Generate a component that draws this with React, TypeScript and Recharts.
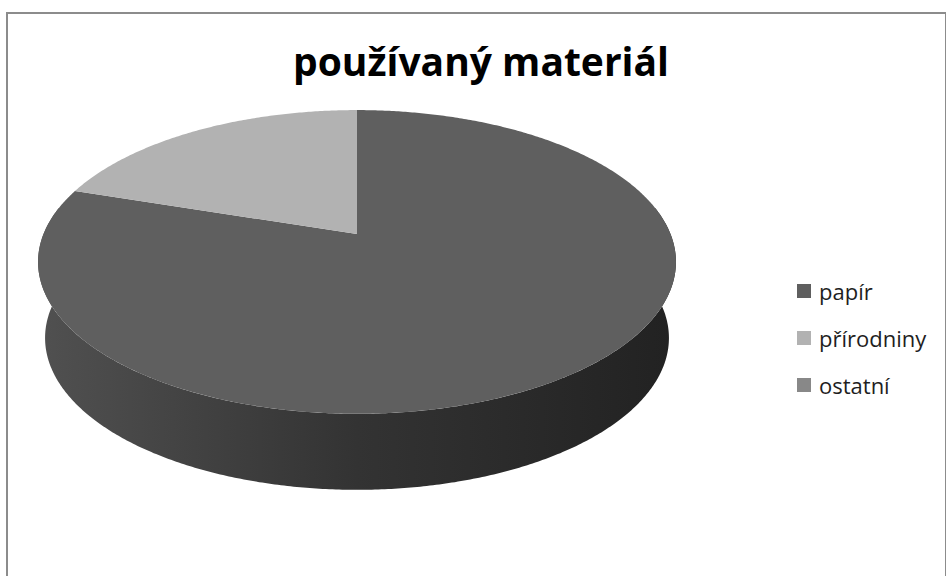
import React from "react";
import { PieChart, Pie, Cell, Legend } from "recharts";

const categories = ["papír", "přírodniny", "ostatní"];
const shares = [80, 20, 0];
const colors = ["#5f5f5f", "#b2b2b2", "#888888"];

const data = categories.map((name, i) => ({ name, value: shares[i] }));

// perspective of the tilted disc
const TILT = 0.468; // vertical squash of radius
const PERSP = 0.184; // far side shrink
const DEPTH = 76;
const BOTTOM_SCALE = 0.978;
const RAD = Math.PI / 180;

const shade = (hex: string, k: number) => {
	const n = parseInt(hex.slice(1), 16);
	const c = (v: number) => Math.round(Math.min(255, v * k)).toString(16).padStart(2, "0");
	return `#${c((n >> 16) & 255)}${c((n >> 8) & 255)}${c(n & 255)}`;
};

const project = (cx: number, cy: number, r: number, a: number, bottom = false) => {
	const u = Math.cos(a * RAD);
	const v = Math.sin(a * RAD);
	const d = 1 + PERSP * v;
	const rr = bottom ? r * BOTTOM_SCALE : r;
	return [cx + (rr * u) / d, cy + (bottom ? DEPTH : 0) - (r * TILT * v) / d];
};

const arcPts = (cx: number, cy: number, r: number, from: number, to: number, bottom = false) => {
	const steps = Math.max(2, Math.ceil(Math.abs(to - from) * 2));
	const pts: string[] = [];
	for (let i = 0; i <= steps; i++) {
		const [x, y] = project(cx, cy, r, from + ((to - from) * i) / steps, bottom);
		pts.push(`${x.toFixed(2)},${y.toFixed(2)}`);
	}
	return pts;
};

const Slice3D = (props: any) => {
	const { cx, cy, outerRadius, startAngle, endAngle, fill, index } = props;
	if (Math.abs(endAngle - startAngle) < 0.01) return <g />;
	const lo = Math.min(startAngle, endAngle);
	const hi = Math.max(startAngle, endAngle);
	const edge = Math.asin(PERSP) / RAD;

	const walls: string[] = [];
	for (let k = -2; k <= 2; k++) {
		const a1 = Math.max(lo, k * 360 - 180 - edge);
		const a2 = Math.min(hi, k * 360 + edge);
		if (a2 - a1 <= 0) continue;
		const top = arcPts(cx, cy, outerRadius, a2, a1);
		const bot = arcPts(cx, cy, outerRadius, a1, a2, true);
		walls.push(`M${top.join("L")}L${bot.join("L")}Z`);
	}

	const face = `M${cx},${cy}L${arcPts(cx, cy, outerRadius, startAngle, endAngle).join("L")}Z`;
	const gid = `wall-${index}`;

	return (
		<g>
			<defs>
				<linearGradient
					id={gid}
					gradientUnits="userSpaceOnUse"
					x1={cx - outerRadius}
					x2={cx + outerRadius}
					y1={0}
					y2={0}
				>
					<stop offset="0%" stopColor={shade(fill, 0.84)} />
					<stop offset="50%" stopColor={shade(fill, 0.54)} />
					<stop offset="100%" stopColor={shade(fill, 0.36)} />
				</linearGradient>
			</defs>
			{walls.map((d, i) => (
				<path key={i} d={d} fill={`url(#${gid})`} stroke="none" />
			))}
			<path d={face} fill={fill} stroke="none" />
		</g>
	);
};

const LegendList = ({ payload }: any) => {
	const items = [...(payload ?? [])].sort(
		(a: any, b: any) => categories.indexOf(a.value) - categories.indexOf(b.value),
	);
	return (
		<div style={{ fontFamily: "'Open Sans', sans-serif", fontSize: 22, color: "#1e1e1e" }}>
			{items.map((item: any) => (
				<div key={item.value} style={{ display: "flex", alignItems: "center", height: 47 }}>
					<span
						style={{
							display: "inline-block",
							width: 14,
							height: 14,
							background: item.color,
							marginRight: 8,
						}}
					/>
					{item.value}
				</div>
			))}
		</div>
	);
};

export default function App() {
	return (
		<div
			style={{
				position: "absolute",
				left: 0,
				top: 0,
				width: 946,
				height: 576,
				overflow: "hidden",
				background: "#fff",
			}}
		>
			<div
				style={{
					position: "absolute",
					left: 6,
					top: 12,
					width: 937,
					height: 620,
					border: "2px solid #8c8c8c",
				}}
			/>
			<div
				style={{
					position: "absolute",
					left: 0,
					top: 35,
					width: 962,
					textAlign: "center",
					fontFamily: "'Open Sans', sans-serif",
					fontWeight: 700,
					fontSize: 39,
					lineHeight: "52px",
					color: "#000",
				}}
			>
				používaný materiál
			</div>
			<div style={{ position: "absolute", left: 0, top: 0 }}>
				<PieChart width={946} height={576} margin={{ top: 0, right: 0, bottom: 0, left: 0 }}>
					<Pie
						data={data}
						dataKey="value"
						nameKey="name"
						cx={357}
						cy={234}
						outerRadius={313.5}
						startAngle={90}
						endAngle={-270}
						stroke="none"
						shape={Slice3D}
						isAnimationActive={false}
					>
						{data.map((d, i) => (
							<Cell key={d.name} fill={colors[i]} />
						))}
					</Pie>
					<Legend
						layout="vertical"
						content={<LegendList />}
						wrapperStyle={{ left: 797, top: 267, width: 150 }}
					/>
				</PieChart>
			</div>
		</div>
	);
}
